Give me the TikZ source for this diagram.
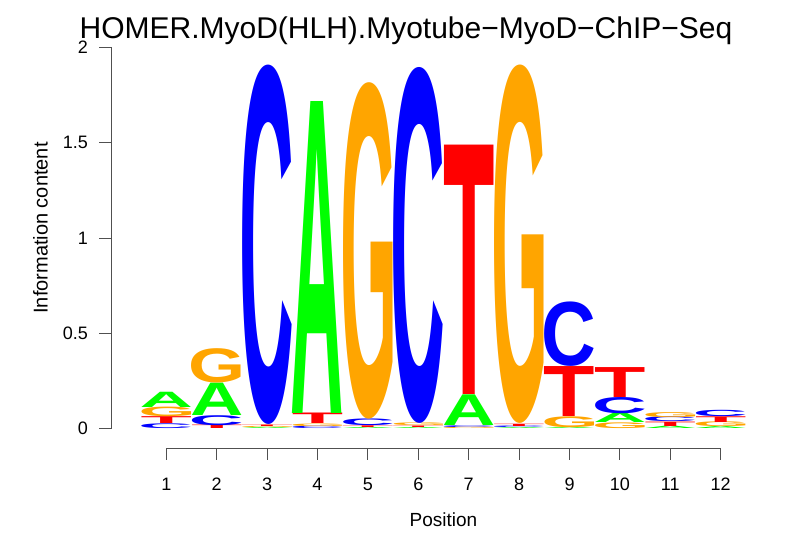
\documentclass[tikz,border=0pt]{standalone}
\usepackage{fontspec}
\setmainfont{Liberation Sans}
\newfontfamily\logofont{Liberation Sans Bold}
\definecolor{nA}{RGB}{0,255,0}
\definecolor{nC}{RGB}{0,0,255}
\definecolor{nG}{RGB}{255,165,0}
\definecolor{nT}{RGB}{255,0,0}
\definecolor{axisc}{RGB}{80,80,80}
\newcommand\tightglyph[1]{\kern-\XeTeXglyphbounds1 \XeTeXcharglyph`#1\relax #1\kern-\XeTeXglyphbounds3 \XeTeXcharglyph`#1\relax}
\tikzset{
  letterbox/.style={anchor=south west,inner sep=0pt,outer sep=0pt},
  axisline/.style={draw=axisc,line width=1pt},
  ticklabel/.style={font=\fontsize{18}{18}\selectfont,inner sep=0pt},
}
\newcommand\logoletter[4]{%
  \pgfmathsetmacro\lgx{166.3+(#1-1)*50.4-24.75}%
  \pgfmathsetmacro\lgy{428.7-#2*190.7}%
  \pgfmathsetmacro\lgh{(#3-#2)*190.7}%
  \node[letterbox] (L#1#4) at (\lgx,\lgy) {\resizebox*{49.5pt}{\lgh pt}{\logofont\color{n#4}\tightglyph{#4}}};}
\begin{document}
\begin{tikzpicture}[x=1pt,y=-1pt]
\useasboundingbox[fill=white] (0,0) rectangle (806,559);
% title
\node[font=\fontsize{30}{30}\selectfont,anchor=base,inner sep=0pt] (title) at (406,39) {HOMER.MyoD(HLH).Myotube\textminus MyoD\textminus ChIP\textminus Seq};
% y axis
\coordinate (ytop) at (111,47.3);
\coordinate (ybot) at (111,428.7);
\draw[axisline] (ytop) -- (ybot);
\foreach \v/\lab in {0/0,0.5/0.5,1/1,1.5/1.5,2/2}{
  \draw[axisline] (111,428.7-\v*190.7) -- (99,428.7-\v*190.7);
  \node[ticklabel,anchor=east] (yl\lab) at (88,428.7-\v*190.7) {\lab};
}
\node[font=\fontsize{20}{20}\selectfont,rotate=90,inner sep=0pt] (ylabel) at (40.5,228) {Information content};
% x axis
\coordinate (xl) at (166.3,448);
\coordinate (xr) at (720.7,448);
\draw[axisline] (xl) -- (xr);
\foreach \i in {1,...,12}{
  \draw[axisline] (166.3+\i*50.4-50.4,448) -- (166.3+\i*50.4-50.4,460);
  \node[ticklabel] (xt\i) at (166.3+\i*50.4-50.4,484.5) {\i};
}
\node[font=\fontsize{19}{19}\selectfont,inner sep=0pt] (xlabel) at (443.5,520) {Position};
% letters
\logoletter{1}{0}{0.025}{C}
\logoletter{1}{0.025}{0.061}{T}
\logoletter{1}{0.061}{0.111}{G}
\logoletter{1}{0.111}{0.191}{A}
\logoletter{2}{0}{0.018}{T}
\logoletter{2}{0.018}{0.07}{C}
\logoletter{2}{0.07}{0.24}{A}
\logoletter{2}{0.24}{0.42}{G}
\logoletter{3}{0}{0.006}{A}
\logoletter{3}{0.006}{0.012}{G}
\logoletter{3}{0.012}{0.02}{T}
\logoletter{3}{0.02}{1.90}{C}
\logoletter{4}{0}{0.012}{C}
\logoletter{4}{0.012}{0.025}{G}
\logoletter{4}{0.025}{0.08}{T}
\logoletter{4}{0.08}{1.715}{A}
\logoletter{5}{0}{0.006}{A}
\logoletter{5}{0.006}{0.015}{T}
\logoletter{5}{0.015}{0.05}{C}
\logoletter{5}{0.05}{1.81}{G}
\logoletter{6}{0}{0.006}{A}
\logoletter{6}{0.006}{0.014}{T}
\logoletter{6}{0.014}{0.028}{G}
\logoletter{6}{0.028}{1.89}{C}
\logoletter{7}{0}{0.007}{G}
\logoletter{7}{0.007}{0.016}{C}
\logoletter{7}{0.016}{0.177}{A}
\logoletter{7}{0.177}{1.484}{T}
\logoletter{8}{0}{0.005}{A}
\logoletter{8}{0.005}{0.013}{C}
\logoletter{8}{0.013}{0.025}{T}
\logoletter{8}{0.025}{1.90}{G}
\logoletter{9}{0}{0.006}{A}
\logoletter{9}{0.006}{0.063}{G}
\logoletter{9}{0.063}{0.325}{T}
\logoletter{9}{0.325}{0.663}{C}
\logoletter{10}{0}{0.03}{G}
\logoletter{10}{0.03}{0.08}{A}
\logoletter{10}{0.08}{0.165}{C}
\logoletter{10}{0.165}{0.322}{T}
\logoletter{11}{0}{0.012}{A}
\logoletter{11}{0.012}{0.035}{T}
\logoletter{11}{0.035}{0.06}{C}
\logoletter{11}{0.06}{0.086}{G}
\logoletter{12}{0}{0.01}{A}
\logoletter{12}{0.01}{0.035}{G}
\logoletter{12}{0.035}{0.065}{T}
\logoletter{12}{0.065}{0.098}{C}
\end{tikzpicture}
\end{document}
